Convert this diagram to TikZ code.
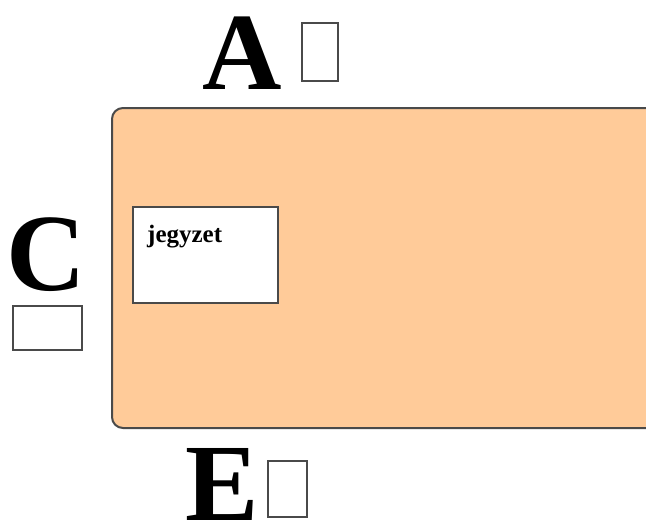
\documentclass[tikz,border=0pt]{standalone}
\usepackage{fontspec}
\setmainfont{Liberation Serif}
\definecolor{peach}{HTML}{FFCB99}
\definecolor{edge}{HTML}{4A4A4A}
\begin{document}
\begin{tikzpicture}[x=1pt,y=-1pt,
  bigletter/.style={font=\bfseries\fontsize{110}{110}\selectfont, inner sep=0pt, anchor=base},
  tofu/.style={draw=edge, line width=1.6pt, fill=white},
  note/.style={font=\bfseries\fontsize{25}{25}\selectfont, inner sep=0pt, anchor=base west}]
\useasboundingbox (0,0) rectangle (646,522);
\clip (0,0) rectangle (646,522);
\fill[white] (0,0) rectangle (646,522);
% main panel
\draw[draw=edge, line width=2pt, fill=peach, rounded corners=11pt] (112,108) rectangle (700,428);
% note box
\draw[tofu] (133,207) rectangle (278,303);
\node[note] (jegyzet) at (147,242) {jegyzet};
% letters
\node[bigletter] (A) at (242,89) {A};
\draw[tofu] (302,23) rectangle (338,81);
\node[bigletter] (C) at (46,290) {C};
\draw[tofu] (13,306) rectangle (82,350);
\node[bigletter] (E) at (222,520) {E};
\draw[tofu] (268,461) rectangle (307,517);
\end{tikzpicture}
\end{document}
